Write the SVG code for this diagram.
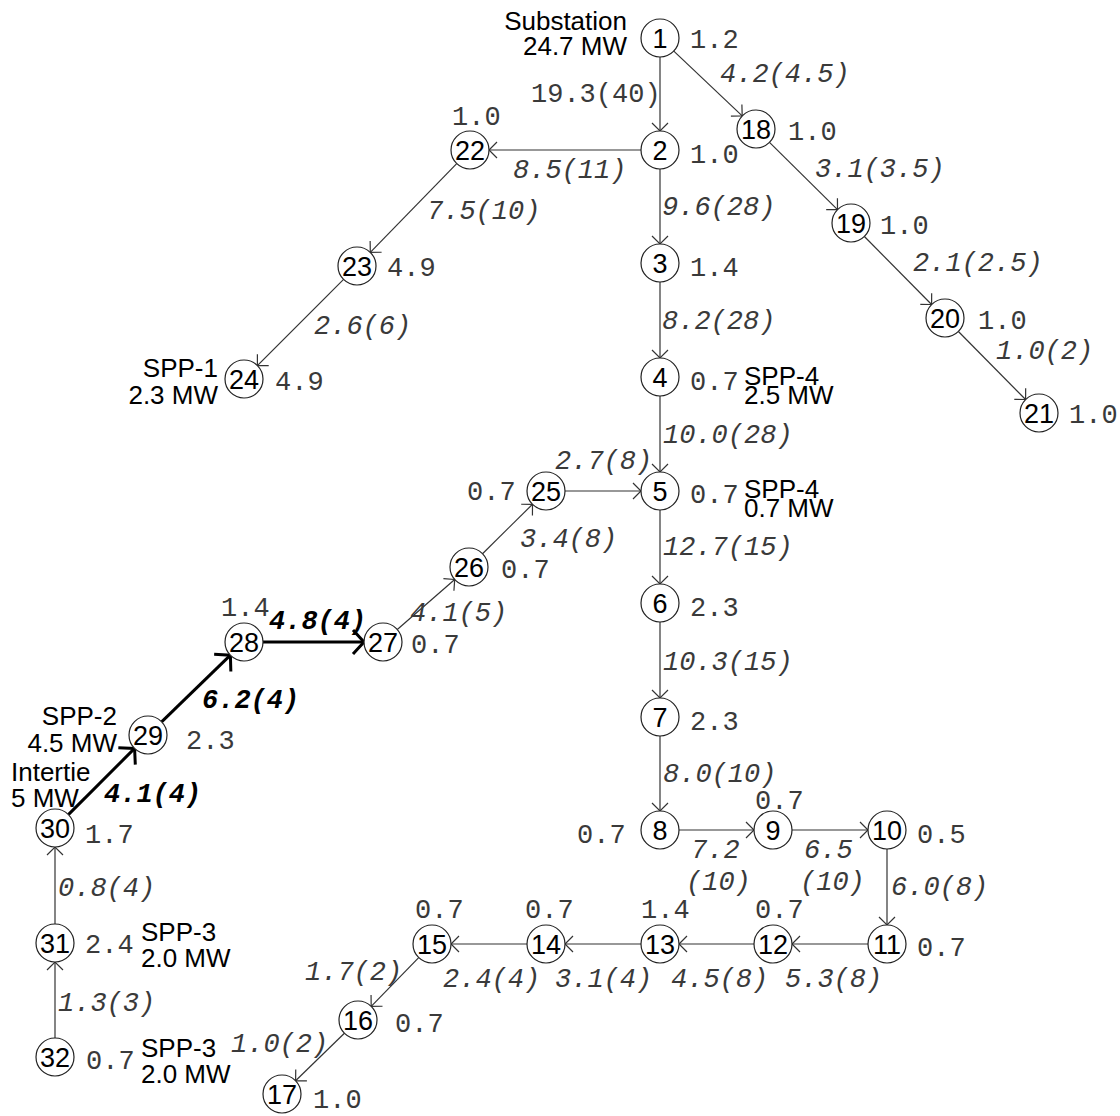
<svg xmlns="http://www.w3.org/2000/svg" width="1120" height="1116" viewBox="0 0 1120 1116">
<defs>
<style>
.n circle{fill:#fff;stroke:#222;stroke-width:1.2}
.n text{font-family:"Liberation Sans",Arial,sans-serif;font-size:27px;fill:#000;text-anchor:middle}
.v{font-family:"Liberation Mono","Courier New",monospace;font-size:27px;fill:#3a3a3a}
.f{font-family:"Liberation Mono","Courier New",monospace;font-size:27px;fill:#3a3a3a;font-style:italic}
.b{font-family:"Liberation Mono","Courier New",monospace;font-size:27px;fill:#000;font-style:italic;font-weight:bold}
.s{font-family:"Liberation Sans",Arial,sans-serif;font-size:26px;fill:#000}
.e line{stroke:#333;stroke-width:1.2;marker-end:url(#a)}
.e line.t{stroke:#000;stroke-width:3;marker-end:url(#at)}
</style>
<marker id="a" markerUnits="userSpaceOnUse" markerWidth="20" markerHeight="20" refX="10" refY="10" orient="auto" overflow="visible">
<path d="M2,2 L10,10 L2,18" fill="none" stroke="#333" stroke-width="1.2"/>
</marker>
<marker id="at" markerUnits="userSpaceOnUse" markerWidth="30" markerHeight="30" refX="15" refY="15" orient="auto" overflow="visible">
<path d="M4,3 L15,15 L4,27" fill="none" stroke="#000" stroke-width="3"/>
</marker>
</defs>
<rect width="1120" height="1116" fill="#fff"/>
<g id="connectors" class="e">
<line x1="660" y1="57" x2="660" y2="131"/>
<line x1="660" y1="169" x2="660" y2="244"/>
<line x1="660" y1="282" x2="660" y2="358"/>
<line x1="660" y1="396" x2="660" y2="472"/>
<line x1="660" y1="510" x2="660" y2="584"/>
<line x1="660" y1="622" x2="660" y2="698"/>
<line x1="660" y1="736" x2="660" y2="811"/>
<line x1="887" y1="849" x2="887" y2="925"/>
<line x1="679" y1="830" x2="754" y2="830"/>
<line x1="792" y1="830" x2="868" y2="830"/>
<line x1="565" y1="491" x2="641" y2="491"/>
<line x1="641" y1="150" x2="489" y2="150"/>
<line x1="868" y1="944" x2="792" y2="944"/>
<line x1="754" y1="944" x2="679" y2="944"/>
<line x1="641" y1="944" x2="565" y2="944"/>
<line x1="527" y1="944" x2="451" y2="944"/>
<line x1="55" y1="924" x2="55" y2="847"/>
<line x1="55" y1="1038" x2="55" y2="962"/>
<line x1="673.8" y1="51.1" x2="742.2" y2="115.9"/>
<line x1="769.5" y1="142.4" x2="837.5" y2="209.6"/>
<line x1="864.4" y1="236.5" x2="931.6" y2="304.5"/>
<line x1="958.4" y1="331.5" x2="1025.6" y2="399.5"/>
<line x1="456.7" y1="163.6" x2="370.3" y2="252.4"/>
<line x1="343.6" y1="279.4" x2="257.4" y2="365.6"/>
<line x1="482.5" y1="553.7" x2="532.5" y2="504.3"/>
<line x1="397.3" y1="629.5" x2="454.7" y2="579.5"/>
<line x1="418.7" y1="957.6" x2="371.2" y2="1006.4"/>
<line x1="344.4" y1="1033.2" x2="295.6" y2="1080.8"/>
<line class="t" x1="263" y1="642" x2="364" y2="642"/>
<line class="t" x1="161.6" y1="721.8" x2="230.4" y2="655.2"/>
<line class="t" x1="68.4" y1="814.6" x2="134.6" y2="748.4"/>
</g>
<g id="n1" class="n"><circle cx="660" cy="38" r="19"/><text x="660" y="47.5">1</text></g>
<g id="n2" class="n"><circle cx="660" cy="150" r="19"/><text x="660" y="159.5">2</text></g>
<g id="n3" class="n"><circle cx="660" cy="263" r="19"/><text x="660" y="272.5">3</text></g>
<g id="n4" class="n"><circle cx="660" cy="377" r="19"/><text x="660" y="386.5">4</text></g>
<g id="n5" class="n"><circle cx="660" cy="491" r="19"/><text x="660" y="500.5">5</text></g>
<g id="n6" class="n"><circle cx="660" cy="603" r="19"/><text x="660" y="612.5">6</text></g>
<g id="n7" class="n"><circle cx="660" cy="717" r="19"/><text x="660" y="726.5">7</text></g>
<g id="n8" class="n"><circle cx="660" cy="830" r="19"/><text x="660" y="839.5">8</text></g>
<g id="n9" class="n"><circle cx="773" cy="830" r="19"/><text x="773" y="839.5">9</text></g>
<g id="n10" class="n"><circle cx="887" cy="830" r="19"/><text x="887" y="839.5">10</text></g>
<g id="n11" class="n"><circle cx="887" cy="944" r="19"/><text x="887" y="953.5">11</text></g>
<g id="n12" class="n"><circle cx="773" cy="944" r="19"/><text x="773" y="953.5">12</text></g>
<g id="n13" class="n"><circle cx="660" cy="944" r="19"/><text x="660" y="953.5">13</text></g>
<g id="n14" class="n"><circle cx="546" cy="944" r="19"/><text x="546" y="953.5">14</text></g>
<g id="n15" class="n"><circle cx="432" cy="944" r="19"/><text x="432" y="953.5">15</text></g>
<g id="n16" class="n"><circle cx="358" cy="1020" r="19"/><text x="358" y="1029.5">16</text></g>
<g id="n17" class="n"><circle cx="282" cy="1094" r="19"/><text x="282" y="1103.5">17</text></g>
<g id="n18" class="n"><circle cx="756" cy="129" r="19"/><text x="756" y="138.5">18</text></g>
<g id="n19" class="n"><circle cx="851" cy="223" r="19"/><text x="851" y="232.5">19</text></g>
<g id="n20" class="n"><circle cx="945" cy="318" r="19"/><text x="945" y="327.5">20</text></g>
<g id="n21" class="n"><circle cx="1039" cy="413" r="19"/><text x="1039" y="422.5">21</text></g>
<g id="n22" class="n"><circle cx="470" cy="150" r="19"/><text x="470" y="159.5">22</text></g>
<g id="n23" class="n"><circle cx="357" cy="266" r="19"/><text x="357" y="275.5">23</text></g>
<g id="n24" class="n"><circle cx="244" cy="379" r="19"/><text x="244" y="388.5">24</text></g>
<g id="n25" class="n"><circle cx="546" cy="491" r="19"/><text x="546" y="500.5">25</text></g>
<g id="n26" class="n"><circle cx="469" cy="567" r="19"/><text x="469" y="576.5">26</text></g>
<g id="n27" class="n"><circle cx="383" cy="642" r="19"/><text x="383" y="651.5">27</text></g>
<g id="n28" class="n"><circle cx="244" cy="642" r="19"/><text x="244" y="651.5">28</text></g>
<g id="n29" class="n"><circle cx="148" cy="735" r="19"/><text x="148" y="744.5">29</text></g>
<g id="n30" class="n"><circle cx="55" cy="828" r="19"/><text x="55" y="837.5">30</text></g>
<g id="n31" class="n"><circle cx="55" cy="943" r="19"/><text x="55" y="952.5">31</text></g>
<g id="n32" class="n"><circle cx="55" cy="1057" r="19"/><text x="55" y="1066.5">32</text></g>
<g id="values">
<text class="v" x="690" y="48">1.2</text>
<text class="v" x="452" y="125">1.0</text>
<text class="v" x="788" y="140">1.0</text>
<text class="v" x="690" y="163">1.0</text>
<text class="v" x="880" y="234">1.0</text>
<text class="v" x="387" y="276">4.9</text>
<text class="v" x="690" y="276">1.4</text>
<text class="v" x="978" y="329">1.0</text>
<text class="v" x="690" y="390">0.7</text>
<text class="v" x="275" y="390">4.9</text>
<text class="v" x="1069" y="423">1.0</text>
<text class="v" x="467" y="500">0.7</text>
<text class="v" x="690" y="503">0.7</text>
<text class="v" x="501" y="578">0.7</text>
<text class="v" x="690" y="616">2.3</text>
<text class="v" x="221" y="616">1.4</text>
<text class="v" x="411" y="653">0.7</text>
<text class="v" x="690" y="730">2.3</text>
<text class="v" x="186" y="749">2.3</text>
<text class="v" x="755" y="809">0.7</text>
<text class="v" x="577" y="843">0.7</text>
<text class="v" x="917" y="843">0.5</text>
<text class="v" x="85" y="843">1.7</text>
<text class="v" x="415" y="918">0.7</text>
<text class="v" x="525" y="918">0.7</text>
<text class="v" x="641" y="918">1.4</text>
<text class="v" x="755" y="918">0.7</text>
<text class="v" x="917" y="956">0.7</text>
<text class="v" x="85" y="953">2.4</text>
<text class="v" x="395" y="1032">0.7</text>
<text class="v" x="86" y="1069">0.7</text>
<text class="v" x="313" y="1108">1.0</text>
</g>
<g id="flows">
<text class="f" x="720" y="82">4.2(4.5)</text>
<text class="v" x="531" y="102">19.3(40)</text>
<text class="f" x="513" y="178">8.5(11)</text>
<text class="f" x="815" y="177">3.1(3.5)</text>
<text class="f" x="662" y="215">9.6(28)</text>
<text class="f" x="427" y="219">7.5(10)</text>
<text class="f" x="913" y="271">2.1(2.5)</text>
<text class="f" x="662" y="329">8.2(28)</text>
<text class="f" x="314" y="334">2.6(6)</text>
<text class="f" x="996" y="359">1.0(2)</text>
<text class="f" x="663" y="443">10.0(28)</text>
<text class="f" x="555" y="469">2.7(8)</text>
<text class="f" x="520" y="547">3.4(8)</text>
<text class="f" x="663" y="555">12.7(15)</text>
<text class="f" x="410" y="621">4.1(5)</text>
<text class="f" x="663" y="670">10.3(15)</text>
<text class="f" x="663" y="782">8.0(10)</text>
<text class="f" x="691" y="858">7.2</text>
<text class="f" x="686" y="890">(10)</text>
<text class="f" x="804" y="858">6.5</text>
<text class="f" x="800" y="890">(10)</text>
<text class="f" x="891" y="895">6.0(8)</text>
<text class="f" x="58" y="896">0.8(4)</text>
<text class="f" x="305" y="980">1.7(2)</text>
<text class="f" x="443" y="987">2.4(4)</text>
<text class="f" x="555" y="987">3.1(4)</text>
<text class="f" x="671" y="987">4.5(8)</text>
<text class="f" x="785" y="987">5.3(8)</text>
<text class="f" x="58" y="1011">1.3(3)</text>
<text class="f" x="231" y="1052">1.0(2)</text>
<text class="b" x="269" y="629">4.8(4)</text>
<text class="b" x="202" y="708">6.2(4)</text>
<text class="b" x="104" y="802">4.1(4)</text>
</g>
<g id="labels">
<text class="s" x="627" y="30" text-anchor="end">Substation</text>
<text class="s" x="627" y="55" text-anchor="end">24.7 MW</text>
<text class="s" x="744" y="385">SPP-4</text>
<text class="s" x="744" y="404">2.5 MW</text>
<text class="s" x="744" y="498">SPP-4</text>
<text class="s" x="744" y="517">0.7 MW</text>
<text class="s" x="218" y="377" text-anchor="end">SPP-1</text>
<text class="s" x="218" y="404" text-anchor="end">2.3 MW</text>
<text class="s" x="117" y="725" text-anchor="end">SPP-2</text>
<text class="s" x="117" y="752" text-anchor="end">4.5 MW</text>
<text class="s" x="11" y="781">Intertie</text>
<text class="s" x="11" y="807">5 MW</text>
<text class="s" x="141" y="941">SPP-3</text>
<text class="s" x="141" y="967">2.0 MW</text>
<text class="s" x="141" y="1057">SPP-3</text>
<text class="s" x="141" y="1083">2.0 MW</text>
</g>
</svg>
